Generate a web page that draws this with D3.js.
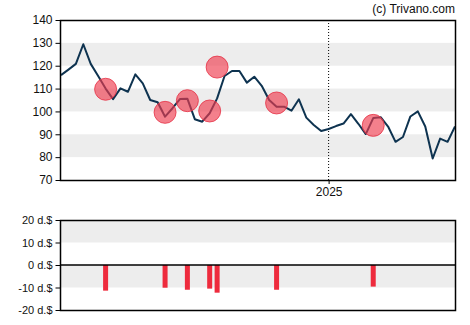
<!DOCTYPE html>
<html><head><meta charset="utf-8">
<script src="https://cdn.jsdelivr.net/npm/d3@7"></script>
<style>body{margin:0;background:#fff;}text{font-family:"Liberation Sans",Arial,sans-serif;}</style>
</head><body><svg id="c" width="470" height="325"></svg>
<script>
const startDate = "2024-04-24";
const prices = [115.9,118.3,120.8,129.4,120.8,115.5,110.0,105.4,110.1,108.6,116.2,112.3,105.0,104.0,97.7,101.4,105.4,105.6,96.6,95.5,99.2,105.7,115.5,117.7,117.7,112.6,115.2,111.2,105.0,102.1,102.1,100.3,105.3,97.3,94.1,91.4,92.3,93.6,94.7,98.8,94.6,90.1,97.1,97.5,93.4,86.7,88.8,97.8,100.0,93.4,79.4,88.1,86.7,93.4];
const eventIdx = [6,14,17,20,21,29,42];
const eventPrice = [109.7,99.6,104.7,100.2,119.4,103.7,93.9];
const eventValue = [-11.4,-10.1,-11.0,-10.5,-12.3,-11.0,-9.6];
const priceTicks = [70,80,90,100,110,120,130,140];
const priceBands = [[120,130],[100,110],[80,90]];
const lowerTicks = [20,10,0,-10,-20];
const lowerBands = [[10,20],[-10,0]];
const yearTick = "2025-01-01";

const svg = d3.select("#c");
const parse = d3.utcParse("%Y-%m-%d");
const t0 = parse(startDate);
const dates = prices.map((_, i) => d3.utcDay.offset(t0, 7 * i));
const L = 61, R = 455;
const x = d3.scaleUtc().domain([dates[0], dates[dates.length - 1]]).range([L, R]);
const y = d3.scaleLinear().domain([70, 140]).range([180, 20]);
const y2 = d3.scaleLinear().domain([-20, 20]).range([310, 220]);

// bands
svg.append("g").selectAll("rect").data(priceBands).join("rect")
  .attr("x", L).attr("width", R - L)
  .attr("y", d => y(d[1])).attr("height", d => y(d[0]) - y(d[1]))
  .attr("fill", "#ededed");
svg.append("g").selectAll("rect").data(lowerBands).join("rect")
  .attr("x", L).attr("width", R - L)
  .attr("y", d => y2(d[1])).attr("height", d => y2(d[0]) - y2(d[1]))
  .attr("fill", "#ededed");

// year line
const yt = parse(yearTick);
svg.append("line").attr("x1", x(yt)).attr("x2", x(yt)).attr("y1", 20).attr("y2", 180)
  .attr("stroke", "#000").attr("stroke-dasharray", "1,2").attr("stroke-width", 1);

// price line
svg.append("path").datum(prices)
  .attr("d", d3.line().x((d, i) => x(dates[i])).y(d => y(d)))
  .attr("fill", "none").attr("stroke", "#0e3350").attr("stroke-width", 2).attr("stroke-linejoin", "round");

// event circles
svg.append("g").selectAll("circle").data(eventIdx).join("circle")
  .attr("cx", d => x(dates[d])).attr("cy", (d, i) => y(eventPrice[i])).attr("r", 11)
  .attr("fill", "rgba(238,60,78,0.65)").attr("stroke", "rgba(230,50,70,0.8)").attr("stroke-width", 1);

// bars
svg.append("g").selectAll("rect").data(eventIdx).join("rect")
  .attr("x", d => x(dates[d]) - 2.5).attr("width", 5)
  .attr("y", y2(0)).attr("height", (d, i) => y2(eventValue[i]) - y2(0))
  .attr("fill", "#ee2b3d");

// frames
svg.append("rect").attr("x", L - 0.5).attr("y", 20.5).attr("width", R - L + 1).attr("height", 160)
  .attr("fill", "none").attr("stroke", "#000").attr("stroke-width", 1.5);
svg.append("rect").attr("x", L - 0.5).attr("y", 220.5).attr("width", R - L + 1).attr("height", 90)
  .attr("fill", "none").attr("stroke", "#000").attr("stroke-width", 1.5);
svg.append("line").attr("x1", L).attr("x2", R).attr("y1", y2(0)).attr("y2", y2(0))
  .attr("stroke", "#000").attr("stroke-width", 1.5);

// axes
const ay = svg.append("g").attr("transform", `translate(${L - 0.5},0)`)
  .call(d3.axisLeft(y).tickValues(priceTicks).tickSize(5).tickPadding(3).tickFormat(d3.format("d")));
ay.select(".domain").remove();
ay.selectAll("text").attr("font-size", 12).attr("fill", "#111").attr("font-family", "Liberation Sans, Arial, sans-serif");
ay.selectAll("line").attr("stroke", "#000");

const ay2 = svg.append("g").attr("transform", `translate(${L - 0.5},0)`)
  .call(d3.axisLeft(y2).tickValues(lowerTicks).tickSize(5).tickPadding(3).tickFormat(d => d + " d.$"));
ay2.select(".domain").remove();
ay2.selectAll("text").attr("font-size", 11).attr("fill", "#111").attr("font-family", "Liberation Sans, Arial, sans-serif");
ay2.selectAll("line").attr("stroke", "#000");

const ax = svg.append("g").attr("transform", `translate(0,180)`)
  .call(d3.axisBottom(x).tickValues([yt]).tickSize(4).tickPadding(3).tickFormat(d3.utcFormat("%Y")));
ax.select(".domain").remove();
ax.selectAll("text").attr("font-size", 12).attr("fill", "#111").attr("font-family", "Liberation Sans, Arial, sans-serif");

svg.append("text").attr("x", 455).attr("y", 13).attr("text-anchor", "end")
  .attr("font-size", 12).attr("fill", "#111").text("(c) Trivano.com");
</script></body></html>
